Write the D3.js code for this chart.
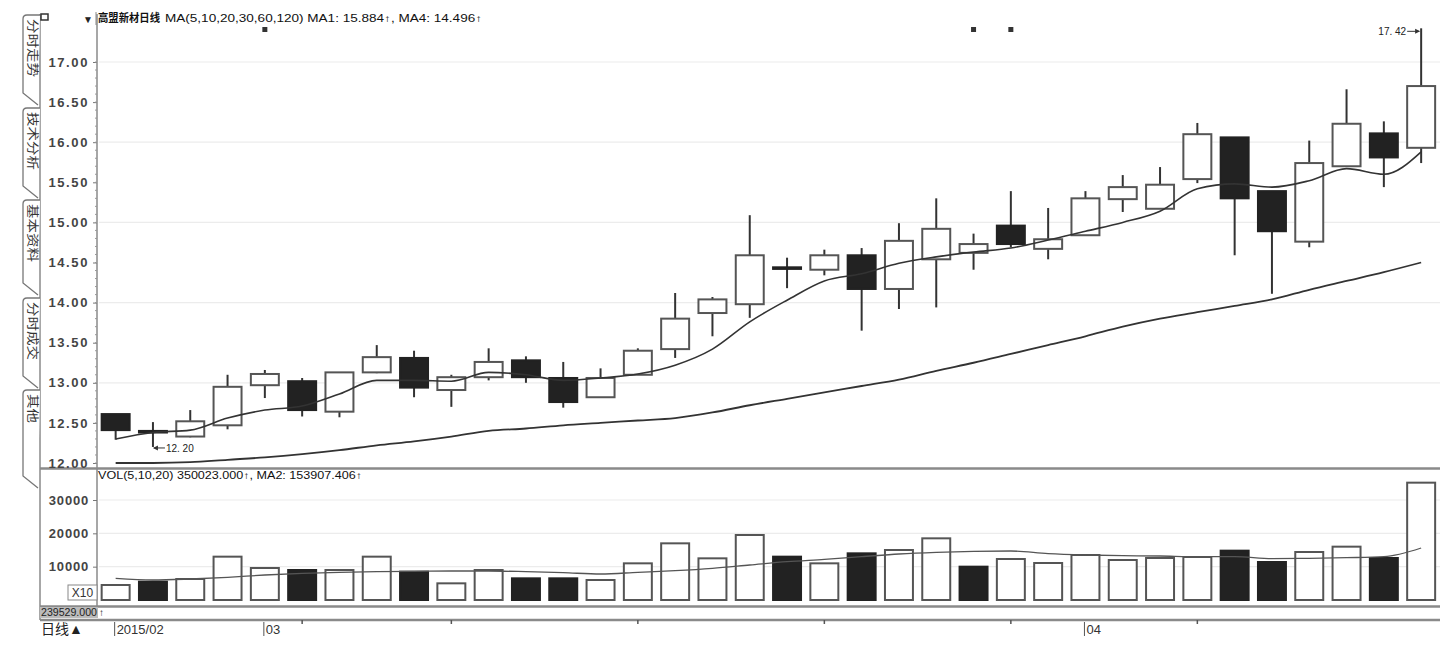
<!DOCTYPE html>
<html><head><meta charset="utf-8">
<script src="https://cdn.jsdelivr.net/npm/d3@7"></script>
<style>
html,body{margin:0;padding:0;background:#fff;}
svg{display:block;}
text{font-family:"Liberation Sans","DejaVu Sans","Noto Sans CJK SC",sans-serif;}
</style></head>
<body><svg id="c" width="1451" height="646"></svg>
<script>
const dates = ["02-17","02-25","02-26","02-27","03-02","03-03","03-04","03-05","03-06","03-09","03-10","03-11","03-12","03-13","03-16","03-17","03-18","03-19","03-20","03-23","03-24","03-25","03-26","03-27","03-30","03-31","04-01","04-02","04-03","04-07","04-08","04-09","04-10","04-13","04-14","04-15"];
const opens  = [12.61,12.40,12.33,12.47,12.97,13.02,12.64,13.13,13.31,12.91,13.07,13.28,13.06,12.82,13.10,13.42,13.87,13.98,14.44,14.41,14.59,14.17,14.54,14.62,14.96,14.67,14.84,15.29,15.17,15.54,16.06,15.39,14.76,15.70,16.11,15.93];
const highs  = [12.61,12.51,12.66,13.10,13.16,13.06,13.13,13.47,13.40,13.10,13.43,13.33,13.26,13.18,13.43,14.12,14.07,15.09,14.56,14.66,14.68,14.99,15.30,14.86,15.39,15.18,15.39,15.59,15.69,16.24,16.06,15.39,16.02,16.66,16.26,17.42];
const lows   = [12.29,12.20,12.32,12.42,12.81,12.58,12.57,13.12,12.82,12.70,13.03,13.00,12.69,12.82,13.10,13.31,13.58,13.81,14.18,14.34,13.65,13.92,13.94,14.41,14.69,14.54,14.84,15.13,15.17,15.49,14.59,14.11,14.69,15.70,15.44,15.74];
const closes = [12.41,12.38,12.52,12.95,13.11,12.66,13.13,13.32,12.94,13.07,13.26,13.07,12.76,13.06,13.40,13.80,14.04,14.59,14.42,14.59,14.17,14.77,14.92,14.73,14.73,14.79,15.30,15.44,15.47,16.10,15.30,14.89,15.74,16.23,15.81,16.70];
const prevClose = 12.35;
const ma1 = [12.30,12.38,12.41,12.56,12.66,12.71,12.86,13.03,13.03,13.02,13.13,13.10,13.03,13.06,13.11,13.22,13.42,13.76,14.03,14.27,14.36,14.49,14.57,14.63,14.68,14.78,14.89,15.00,15.14,15.42,15.48,15.44,15.52,15.67,15.60,15.88];
const ma4 = [12.00,12.00,12.01,12.04,12.07,12.11,12.16,12.22,12.27,12.33,12.40,12.43,12.47,12.50,12.53,12.56,12.63,12.72,12.80,12.88,12.96,13.04,13.15,13.25,13.36,13.47,13.58,13.70,13.80,13.88,13.96,14.04,14.16,14.27,14.38,14.50];
const volumes = [4500,5500,6300,13000,9600,9000,9000,13000,8500,5000,9000,6500,6500,6000,11000,17000,12500,19500,13000,11000,14000,15000,18500,10000,12300,11100,13500,12000,12600,12900,14800,11400,14400,16000,12600,35200];
const volMa = [6500,6000,6300,6800,7500,8000,8300,8500,8600,8700,8700,8500,8200,7800,8300,8800,9500,10500,11500,12200,13000,13800,14300,14600,14700,13900,13500,13300,13200,13000,13000,12400,12500,12700,13000,15600];
const priceTicks = [12,12.5,13,13.5,14,14.5,15,15.5,16,16.5,17];
const priceGrid = [13,14,15,16,17];
const volTicks = [10000,20000,30000];
const monthLabels = [{d:"02-17",t:"2015/02"},{d:"03-02",t:"03"},{d:"04-01",t:"04"}];
const weekTicks = ["03-03","03-09","03-16","03-23","03-30","04-07"];
const markerDates = ["03-02","03-27","03-30"];
const tabs = ["分时走势","技术分析","基本资料","分时成交","其他"];
const title = "高盟新材日线";
const header = "MA(5,10,20,30,60,120) MA1: 15.884↑, MA4: 14.496↑";
const volHeader = "VOL(5,10,20) 350023.000↑, MA2: 153907.406↑";
const bottomBox = "239529.000";

const svg = d3.select("#c");
const AX = 97;
const x = d3.scaleBand().domain(dates).range([AX, AX + 36*37.3]).paddingInner(0.25).paddingOuter(0.125);
const bw = x.bandwidth();
const cx = d => x(d) + bw/2;
const y = d3.scaleLinear().domain([12,17]).range([463,62]);
const yv = d3.scaleLinear().domain([0,30000]).range([600,500]);

// grid
svg.append("g").selectAll("line").data(priceGrid).join("line")
  .attr("x1",AX+2).attr("x2",1440).attr("y1",d=>y(d)).attr("y2",d=>y(d))
  .attr("stroke","#ececec").attr("stroke-width",1.2);
svg.append("g").selectAll("line").data(volTicks).join("line")
  .attr("x1",AX+2).attr("x2",1440).attr("y1",d=>yv(d)).attr("y2",d=>yv(d))
  .attr("stroke","#ececec").attr("stroke-width",1.2);

// frame lines
const gray = "#8a8a8a";
svg.append("line").attr("x1",40).attr("x2",40).attr("y1",14).attr("y2",620).attr("stroke",gray).attr("stroke-width",1.5);
svg.append("line").attr("x1",AX).attr("x2",AX).attr("y1",14).attr("y2",606).attr("stroke",gray).attr("stroke-width",1.5);
svg.append("line").attr("x1",40).attr("x2",1440).attr("y1",468.5).attr("y2",468.5).attr("stroke",gray).attr("stroke-width",2.5);
svg.append("line").attr("x1",40).attr("x2",1440).attr("y1",606.5).attr("y2",606.5).attr("stroke",gray).attr("stroke-width",2.5);
svg.append("line").attr("x1",40).attr("x2",1440).attr("y1",620).attr("y2",620).attr("stroke",gray).attr("stroke-width",2.5);

// price axis
const yAxis = d3.axisLeft(y).tickValues(priceTicks).tickFormat(d3.format(".2f")).tickSize(4).tickPadding(4);
const ga = svg.append("g").attr("transform",`translate(${AX},0)`).call(yAxis);
ga.select(".domain").remove();
ga.selectAll("line").attr("stroke","#777");
ga.selectAll("text").attr("font-size",13).attr("font-weight","bold").attr("fill","#444").attr("letter-spacing","1.6px");
svg.append("g").selectAll("line").data(d3.range(120,171).map(v=>v/10)).join("line")
  .attr("x1",AX-2).attr("x2",AX).attr("y1",d=>y(d)).attr("y2",d=>y(d)).attr("stroke","#999");

const vAxis = d3.axisLeft(yv).tickValues(volTicks).tickFormat(d3.format("d")).tickSize(4).tickPadding(4);
const gv = svg.append("g").attr("transform",`translate(${AX},0)`).call(vAxis);
gv.select(".domain").remove();
gv.selectAll("line").attr("stroke","#777");
gv.selectAll("text").attr("font-size",13).attr("font-weight","bold").attr("fill","#444").attr("letter-spacing","0.8px");

// tabs
tabs.forEach((t,i)=>{
  const tops=[15,108,200,298,390], bots=[105,198,295,388,488];
  const a=tops[i], b=bots[i];
  svg.append("path").attr("d",`M40,${a} L27,${a} Q23,${a} 23,${a+4} L23,${b-12} L38,${b}`)
    .attr("fill","#fff").attr("stroke","#777").attr("stroke-width",1.3);
  svg.append("text").attr("transform",`translate(27,${a+4}) rotate(90)`)
    .attr("font-size",12).attr("fill","#333").attr("font-family","Noto Sans CJK SC")
    .attr("dy","-0.1em").attr("textLength", t.length*14.5).attr("lengthAdjust","spacingAndGlyphs").text(t);
});
svg.append("rect").attr("x",41).attr("y",14).attr("width",7).attr("height",6).attr("fill","none").attr("stroke","#333").attr("stroke-width",1.5);

// header
svg.append("text").attr("x",83).attr("y",23).attr("font-size",10).attr("font-weight","bold").attr("fill","#222").text("▼");
svg.append("line").attr("x1",96).attr("x2",96).attr("y1",12).attr("y2",25).attr("stroke","#888");
svg.append("text").attr("x",98).attr("y",22).attr("font-size",11).attr("fill","#111").attr("font-weight","bold").attr("font-family","Noto Sans CJK SC")
  .attr("textLength",62).attr("lengthAdjust","spacingAndGlyphs").text(title);
svg.append("text").attr("x",165).attr("y",22).attr("font-size",10).attr("fill","#111")
  .attr("textLength",317).attr("lengthAdjust","spacingAndGlyphs").text(header);
svg.append("text").attr("x",98).attr("y",479).attr("font-size",10).attr("fill","#111")
  .attr("textLength",264).attr("lengthAdjust","spacingAndGlyphs").text(volHeader);

// markers
svg.append("g").selectAll("rect").data(markerDates).join("rect")
  .attr("x",d=>cx(d)-2.5).attr("y",27).attr("width",5).attr("height",5).attr("fill","#333");

// candles
const idx = d3.range(dates.length);
const gc = svg.append("g");
gc.selectAll("line").data(idx).join("line")
  .attr("x1",i=>cx(dates[i])).attr("x2",i=>cx(dates[i]))
  .attr("y1",i=>y(highs[i])).attr("y2",i=>y(lows[i]))
  .attr("stroke","#333").attr("stroke-width",2);
gc.selectAll("rect").data(idx).join("rect")
  .attr("x",i=>x(dates[i])).attr("width",bw)
  .attr("y",i=>y(Math.max(opens[i],closes[i])))
  .attr("height",i=>Math.max(1.5,Math.abs(y(opens[i])-y(closes[i]))))
  .attr("fill",i=>closes[i]<opens[i]?"#222":"#fff")
  .attr("stroke",i=>closes[i]<opens[i]?"#222":"#555").attr("stroke-width",2);

// MA lines
const line = d3.line().x((d,i)=>cx(dates[i])).y(d=>y(d)).curve(d3.curveMonotoneX);
svg.append("path").attr("d",line(ma1)).attr("fill","none").attr("stroke","#333").attr("stroke-width",1.6);
svg.append("path").attr("d",line(ma4)).attr("fill","none").attr("stroke","#333").attr("stroke-width",1.8);

// high/low annotations
const iH = dates.length-1, iL = 1;
const hx = cx(dates[iH]), hy = y(highs[iH]);
svg.append("line").attr("x1",hx-14).attr("x2",hx-2).attr("y1",hy+3).attr("y2",hy+3).attr("stroke","#333");
svg.append("path").attr("d",`M${hx-1},${hy+3} l-5,-2.5 l0,5 z`).attr("fill","#333");
svg.append("text").attr("x",hx-15).attr("y",hy+7).attr("text-anchor","end").attr("font-size",10).attr("fill","#222").text(highs[iH].toFixed(2).replace(".",". "));
const lx = cx(dates[iL]), ly = y(lows[iL]);
svg.append("line").attr("x1",lx+1).attr("x2",lx+12).attr("y1",ly+1).attr("y2",ly+1).attr("stroke","#333");
svg.append("path").attr("d",`M${lx},${ly+1} l5,-2.5 l0,5 z`).attr("fill","#333");
svg.append("text").attr("x",lx+13).attr("y",ly+5).attr("font-size",10).attr("fill","#222").text(lows[iL].toFixed(2).replace(".",". "));

// volume
const down = i => closes[i] < (i ? closes[i-1] : prevClose);
const gvb = svg.append("g");
gvb.selectAll("rect").data(idx).join("rect")
  .attr("x",i=>x(dates[i])).attr("width",bw)
  .attr("y",i=>yv(volumes[i])).attr("height",i=>yv(0)-yv(volumes[i]))
  .attr("fill",i=>down(i) ? "#222":"#fff")
  .attr("stroke",i=>down(i) ? "#222":"#555").attr("stroke-width",2);
const vline = d3.line().x((d,i)=>cx(dates[i])).y(d=>yv(d)).curve(d3.curveMonotoneX);
svg.append("path").attr("d",vline(volMa)).attr("fill","none").attr("stroke","#555").attr("stroke-width",1.3);

// X10 box
svg.append("rect").attr("x",68).attr("y",585).attr("width",29).attr("height",15).attr("fill","#fff").attr("stroke","#888");
svg.append("text").attr("x",82.5).attr("y",597).attr("text-anchor","middle").attr("font-size",12).attr("fill","#333").text("X10");

// bottom box
svg.append("rect").attr("x",40).attr("y",607).attr("width",58).attr("height",11).attr("fill","#bbb");
svg.append("text").attr("x",41).attr("y",616).attr("font-size",10).attr("fill","#222").attr("textLength",56).attr("lengthAdjust","spacingAndGlyphs").text(bottomBox);
svg.append("text").attr("x",99).attr("y",616).attr("font-size",10).attr("fill","#222").text("↑");

// date axis
svg.append("text").attr("x",41).attr("y",634).attr("font-size",14).attr("fill","#222").attr("font-family","Noto Sans CJK SC").text("日线▲");
monthLabels.forEach(m=>{
  const px = cx(m.d)-1;
  svg.append("line").attr("x1",px).attr("x2",px).attr("y1",622).attr("y2",636).attr("stroke","#555");
  svg.append("text").attr("x",px+2).attr("y",634).attr("font-size",13).attr("fill","#333").text(m.t);
});
svg.append("g").selectAll("line").data(weekTicks).join("line")
  .attr("x1",d=>cx(d)).attr("x2",d=>cx(d)).attr("y1",620).attr("y2",624).attr("stroke","#555").attr("stroke-width",1.5);
</script></body></html>
